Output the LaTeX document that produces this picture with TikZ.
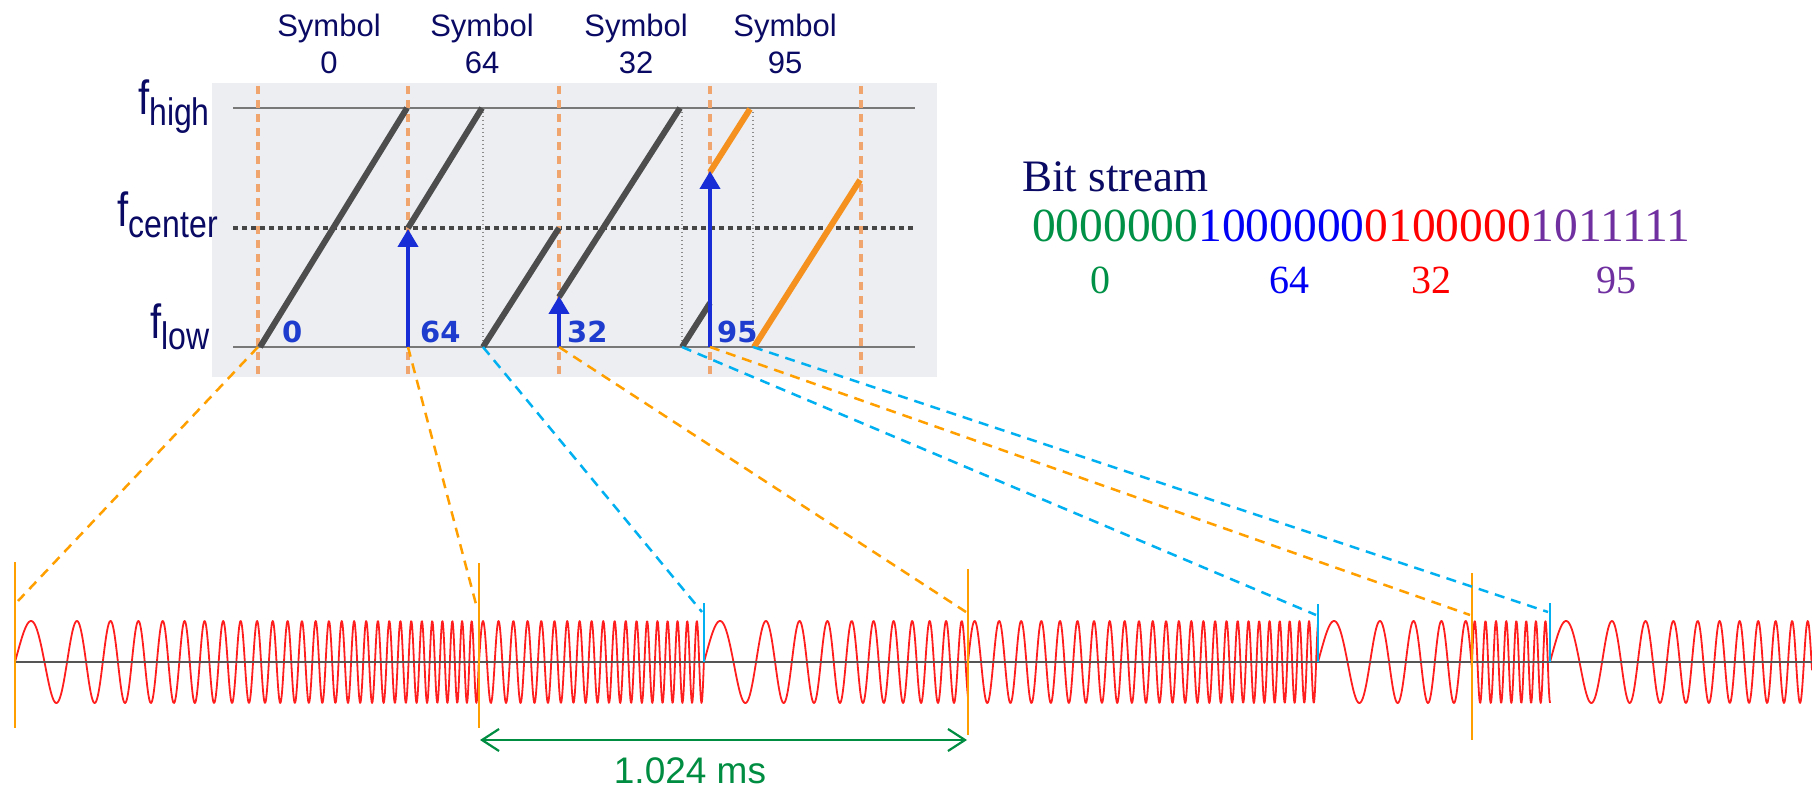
\documentclass[tikz,border=0pt]{standalone}
\usepackage{fontspec}
\setmainfont{Liberation Serif}
\newfontfamily\arialf{Liberation Sans}
\newfontfamily\dejavuf{DejaVu Sans}
\usetikzlibrary{arrows.meta}

\definecolor{navy}{RGB}{10,10,100}
\definecolor{boxbg}{RGB}{236,238,242}
\definecolor{diaggray}{RGB}{77,77,77}
\definecolor{diagorange}{RGB}{245,145,30}
\definecolor{vorange}{RGB}{240,165,110}
\definecolor{arrblue}{RGB}{25,45,215}
\definecolor{lblblue}{RGB}{30,60,205}
\definecolor{mkorange}{RGB}{255,160,0}
\definecolor{mkblue}{RGB}{0,176,240}
\definecolor{wavered}{RGB}{255,30,30}
\definecolor{axisgray}{RGB}{85,85,85}
\definecolor{fgray}{RGB}{120,120,120}
\definecolor{fcgray}{RGB}{70,70,70}
\definecolor{dotgray}{RGB}{140,140,140}
\definecolor{bgreen}{RGB}{0,145,70}
\definecolor{bblue}{RGB}{0,0,245}
\definecolor{bred}{RGB}{255,0,0}
\definecolor{bpurple}{RGB}{112,48,160}
\definecolor{msgreen}{RGB}{0,140,65}

\newcommand\freqlab[1]{\scalebox{1}[1.2]{\fontsize{40}{40}\selectfont f\raisebox{-9pt}{\fontsize{32}{32}\selectfont #1}}}
\newcommand\chirpseg[4]{%
  \draw[wave] plot[domain=#1:#2, samples=#4] (\x, {662-41*sin(360*mod(#3*(\x-#1)/100+((\x-#1)/100)^2,1))});%
}

\begin{document}
\begin{tikzpicture}[x=1pt,y=-1pt,
  chartbox/.style={fill=boxbg},
  overt/.style={draw=vorange, line width=4pt, dash pattern=on 8pt off 6pt},
  dotvert/.style={draw=dotgray, line width=1.2pt, dash pattern=on 1.5pt off 2.5pt},
  fline/.style={draw=fgray, line width=2.5pt},
  fcline/.style={draw=fcgray, line width=3.5pt, dash pattern=on 5pt off 4pt},
  graydiag/.style={draw=diaggray, line width=6pt},
  orgdiag/.style={draw=diagorange, line width=6pt},
  bluearrow/.style={draw=arrblue, line width=4pt, -{Triangle[width=20pt,length=18pt]}},
  chartnum/.style={font=\dejavuf\bfseries\fontsize{29}{29}\selectfont, text=lblblue, inner sep=0, anchor=base west},
  symlab/.style={font=\arialf\fontsize{31}{31}\selectfont, text=navy, inner sep=0, anchor=base},
  flabel/.style={font=\arialf, text=navy, inner sep=0, anchor=base east},
  numlab/.style={font=\fontsize{40}{40}\selectfont, inner sep=0, anchor=base},
  ordash/.style={draw=mkorange, line width=2.5pt, dash pattern=on 10pt off 7pt},
  bldash/.style={draw=mkblue, line width=2.5pt, dash pattern=on 10pt off 7pt},
  omark/.style={draw=mkorange, line width=2.5pt},
  bmark/.style={draw=mkblue, line width=2.5pt},
  wave/.style={draw=wavered, line width=1.8pt, line join=round},
  axisline/.style={draw=axisgray, line width=2.5pt},
  durarrow/.style={draw=msgreen, line width=2.2pt, {Straight Barb[length=17pt,width=22pt]}-{Straight Barb[length=17pt,width=22pt]}}
]
\useasboundingbox (0,0) rectangle (1812,791);

% ---------- chart ----------
\fill[chartbox] (212,83) rectangle (937,377);
\foreach \xx in {483,682,753} \draw[dotvert] (\xx,108) -- (\xx,347);
\draw[fline] (233,108) -- (915,108);
\draw[fline] (233,347) -- (915,347);
\draw[fcline] (233,228) -- (915,228);
\foreach \xx in {258,408,559,710,861} \draw[overt] (\xx,86) -- (\xx,377);

\draw[graydiag] (260,347) -- (407,108);
\draw[graydiag] (408,228) -- (482,108);
\draw[graydiag] (483,347) -- (559,228);
\draw[graydiag] (559,297) -- (680,108);
\draw[graydiag] (682,347) -- (710,303);
\draw[orgdiag] (710,172) -- (750,109);
\draw[orgdiag] (754,347) -- (860,180);

\coordinate (a64b) at (408,347); \coordinate (a64t) at (408,229);
\coordinate (a32b) at (559,347); \coordinate (a32t) at (559,296);
\coordinate (a95b) at (710,347); \coordinate (a95t) at (710,171);
\draw[bluearrow] (a64b) -- (a64t);
\draw[bluearrow] (a32b) -- (a32t);
\draw[bluearrow] (a95b) -- (a95t);

\node[chartnum] (c0) at (282,343) {0};
\node[chartnum] (c64) at (420,343) {64};
\node[chartnum] (c32) at (567,343) {32};
\node[chartnum] (c95) at (717,343) {95};

\node[symlab] (s0) at (329,37) {Symbol};
\node[symlab] (s64) at (482,37) {Symbol};
\node[symlab] (s32) at (636,37) {Symbol};
\node[symlab] (s95) at (785,37) {Symbol};
\node[symlab] (n0) at (329,74) {0};
\node[symlab] (n64) at (482,74) {64};
\node[symlab] (n32) at (636,74) {32};
\node[symlab] (n95) at (785,74) {95};

\node[flabel] (fhigh) at (210,115) {\freqlab{high}};
\node[flabel] (fcenter) at (218,227) {\freqlab{center}};
\node[flabel] (flow) at (210,339) {\freqlab{low}};

% ---------- bit stream ----------
\node[anchor=base west, inner sep=0, text=navy, font=\fontsize{45}{45}\selectfont] (bst) at (1022,192) {Bit stream};
\node[anchor=base west, inner sep=0, font=\fontsize{47.5}{47.5}\selectfont] (bits) at (1032,242)
  {\textcolor{bgreen}{0000000}\textcolor{bblue}{1000000}\textcolor{bred}{0100000}\textcolor{bpurple}{1011111}};
\node[numlab, text=bgreen] (v0) at (1100,294) {0};
\node[numlab, text=bblue] (v64) at (1289,294) {64};
\node[numlab, text=bred] (v32) at (1431,294) {32};
\node[numlab, text=bpurple] (v95) at (1616,294) {95};

% ---------- waveform ----------
\chirpseg{15}{479}{1.4}{930}
\chirpseg{479}{704}{6.2}{450}
\chirpseg{704}{968}{1.4}{530}
\chirpseg{968}{1318}{3.7}{700}
\chirpseg{1318}{1472}{1.4}{310}
\chirpseg{1472}{1550}{9.14}{160}
\chirpseg{1550}{1812}{1.4}{420}
\coordinate (ax0) at (15,662); \coordinate (ax1) at (1812,662);
\draw[axisline] (ax0) -- (ax1);

\coordinate (om1t) at (15,562);   \coordinate (om1b) at (15,728);
\coordinate (om2t) at (479,563);  \coordinate (om2b) at (479,728);
\coordinate (om3t) at (968,569);  \coordinate (om3b) at (968,735);
\coordinate (om4t) at (1472,573); \coordinate (om4b) at (1472,740);
\draw[omark] (om1t) -- (om1b);
\draw[omark] (om2t) -- (om2b);
\draw[omark] (om3t) -- (om3b);
\draw[omark] (om4t) -- (om4b);
\coordinate (bm1t) at (704,603);  \coordinate (bm1b) at (704,662);
\coordinate (bm2t) at (1318,604); \coordinate (bm2b) at (1318,662);
\coordinate (bm3t) at (1550,603); \coordinate (bm3b) at (1550,662);
\draw[bmark] (bm1t) -- (bm1b);
\draw[bmark] (bm2t) -- (bm2b);
\draw[bmark] (bm3t) -- (bm3b);

% ---------- connectors ----------
\coordinate (p1) at (258,347); \coordinate (q1) at (18,601);
\coordinate (p2) at (408,347); \coordinate (q2) at (477,608);
\coordinate (p3) at (559,347); \coordinate (q3) at (966,612);
\coordinate (p4) at (710,347); \coordinate (q4) at (1470,615);
\coordinate (p5) at (483,347); \coordinate (q5) at (702,612);
\coordinate (p6) at (682,347); \coordinate (q6) at (1316,615);
\coordinate (p7) at (753,347); \coordinate (q7) at (1548,612);
\draw[ordash] (p1) -- (q1);
\draw[ordash] (p2) -- (q2);
\draw[ordash] (p3) -- (q3);
\draw[ordash] (p4) -- (q4);
\draw[bldash] (p5) -- (q5);
\draw[bldash] (p6) -- (q6);
\draw[bldash] (p7) -- (q7);

% ---------- duration ----------
\coordinate (d1) at (480,740); \coordinate (d2) at (967,740);
\draw[durarrow] (d1) -- (d2);
\node[anchor=base, inner sep=0, font=\arialf\fontsize{37}{37}\selectfont, text=msgreen] (dur) at (690,783) {1.024 ms};
\end{tikzpicture}
\end{document}
